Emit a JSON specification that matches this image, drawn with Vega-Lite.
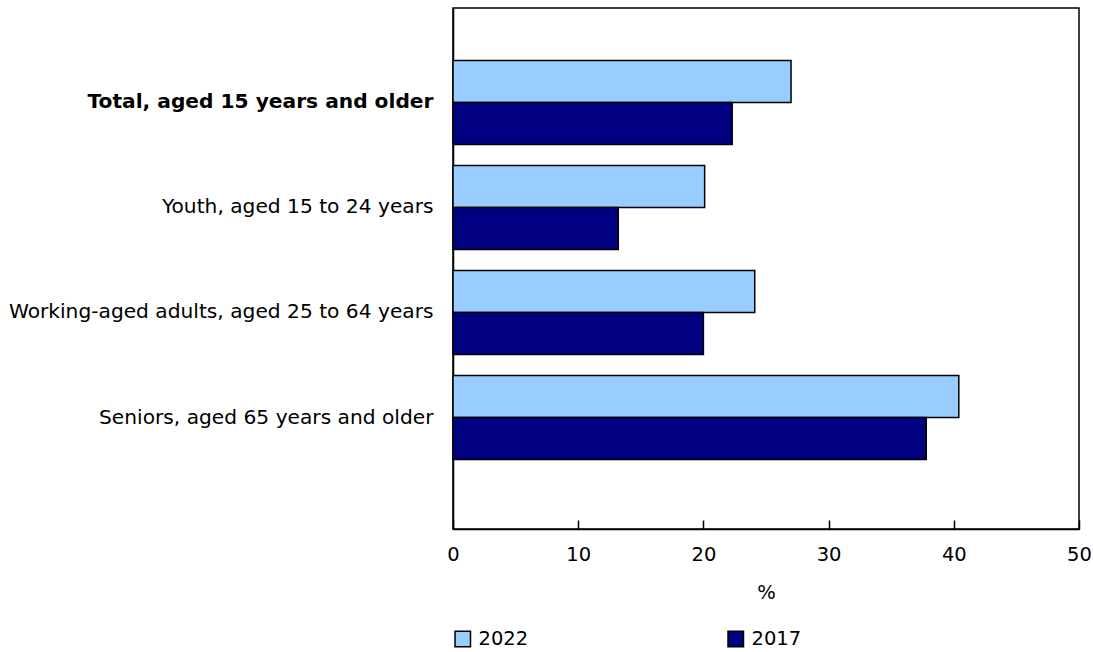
{
  "$schema": "https://vega.github.io/schema/vega-lite/v6.json",
  "width": 626,
  "height": 521,
  "autosize": {"type": "none"},
  "padding": {"left": 453, "top": 8, "right": 14, "bottom": 123},
  "background": "white",
  "config": {
    "font": "DejaVu Sans",
    "view": {"stroke": "black", "strokeWidth": 1.5},
    "axis": {"labelFont": "DejaVu Sans", "titleFont": "DejaVu Sans", "labelColor": "black", "titleColor": "black", "domainColor": "black", "tickColor": "black"}
  },
  "data": {
    "values": [
      {"group": "Total, aged 15 years and older", "year": "2022", "value": 27.0},
      {"group": "Total, aged 15 years and older", "year": "2017", "value": 22.3},
      {"group": "Youth, aged 15 to 24 years", "year": "2022", "value": 20.1},
      {"group": "Youth, aged 15 to 24 years", "year": "2017", "value": 13.2},
      {"group": "Working-aged adults, aged 25 to 64 years", "year": "2022", "value": 24.1},
      {"group": "Working-aged adults, aged 25 to 64 years", "year": "2017", "value": 20.0},
      {"group": "Seniors, aged 65 years and older", "year": "2022", "value": 40.4},
      {"group": "Seniors, aged 65 years and older", "year": "2017", "value": 37.8}
    ]
  },
  "mark": {"type": "bar", "stroke": "black", "strokeWidth": 1.5},
  "encoding": {
    "y": {
      "field": "group",
      "type": "nominal",
      "sort": null,
      "scale": {"paddingInner": 0.2, "paddingOuter": 0.58, "align": 0.43},
      "axis": {
        "title": null,
        "ticks": false,
        "domain": true,
        "domainWidth": 1.5,
        "labelFontSize": 20.2,
        "labelPadding": 20,
        "labelLimit": 460,
        "labelFontWeight": {"condition": {"test": "datum.value == 'Total, aged 15 years and older'", "value": "bold"}, "value": "normal"}
      }
    },
    "yOffset": {
      "field": "year",
      "type": "nominal",
      "sort": ["2022", "2017"],
      "scale": {"paddingInner": 0, "paddingOuter": 0}
    },
    "x": {
      "field": "value",
      "type": "quantitative",
      "scale": {"domain": [0, 50], "nice": false},
      "axis": {
        "title": "%",
        "titleFontSize": 19.5,
        "titleFontWeight": "normal",
        "titlePadding": 20,
        "labelFontSize": 19.5,
        "values": [0, 10, 20, 30, 40, 50],
        "tickSize": -9,
        "tickWidth": 1.5,
        "domainWidth": 1.5,
        "labelPadding": 25,
        "grid": false,
        "labelFlush": false
      }
    },
    "color": {
      "field": "year",
      "type": "nominal",
      "sort": ["2022", "2017"],
      "scale": {"domain": ["2022", "2017"], "range": ["#99CCFF", "#000080"]},
      "legend": {
        "title": null,
        "orient": "none",
        "direction": "horizontal",
        "legendX": 0,
        "legendY": 621,
        "symbolType": "square",
        "symbolSize": 240,
        "symbolStrokeColor": "black",
        "symbolStrokeWidth": 1.5,
        "labelFontSize": 19.5,
        "labelColor": "black",
        "labelOffset": 6,
        "columnPadding": 196,
        "symbolOpacity": 1
      }
    }
  }
}
